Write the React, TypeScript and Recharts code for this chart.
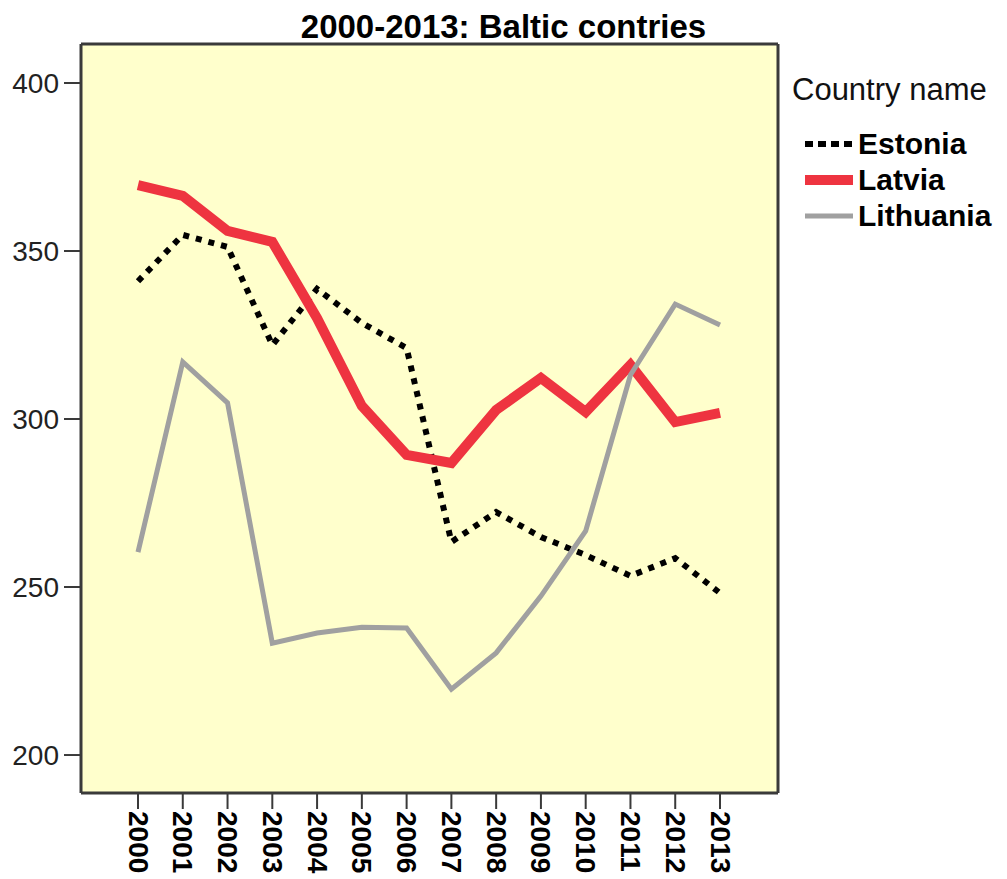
import React from 'react';
import { LineChart, Line, XAxis, YAxis, CartesianGrid, Legend } from 'recharts';

const years = ['2000', '2001', '2002', '2003', '2004', '2005', '2006', '2007', '2008', '2009', '2010', '2011', '2012', '2013'];
const estonia = [341, 354.8, 351.2, 322, 338.7, 328.6, 321.1, 263.4, 272.3, 264.9, 259.5, 253.3, 258.6, 248.2];
const latvia = [369.6, 366.4, 356, 352.7, 330, 303.9, 289.3, 286.9, 302.7, 312.2, 302.1, 316.1, 299.1, 301.8];
const lithuania = [260.4, 317, 304.8, 233.3, 236.3, 238, 237.8, 219.6, 230.4, 247.3, 266.7, 313.1, 334.2, 328];
const yTicks = [200, 250, 300, 350, 400];

const FONT = '"Liberation Sans", Arial, sans-serif';
const FRAME = '#3a3a3a';

const series = [
  { key: 'Estonia', color: '#000000', width: 6, dash: '6 7', legendDash: '8 5' },
  { key: 'Latvia', color: '#ee3440', width: 10, dash: undefined, legendDash: undefined },
  { key: 'Lithuania', color: '#a0a0a0', width: 5, dash: undefined, legendDash: undefined },
];

const data = years.map((year, i) => ({
  year,
  Estonia: estonia[i],
  Latvia: latvia[i],
  Lithuania: lithuania[i],
}));

const YearTick = ({ x, y, payload }: any) => (
  <text
    transform={`translate(${x},${y}) rotate(90)`}
    x={0}
    y={0}
    dominantBaseline="central"
    textAnchor="start"
    fontFamily={FONT}
    fontWeight={700}
    fontSize={28}
    fill="#000"
  >
    {payload.value}
  </text>
);

const renderLegend = () => (
  <div style={{ fontFamily: FONT, color: '#000' }}>
    <div style={{ fontSize: 31, lineHeight: '36px', color: '#111', whiteSpace: 'nowrap' }}>Country name</div>
    <div style={{ marginTop: 18 }}>
      {series.map((s) => (
        <div key={s.key} style={{ display: 'flex', alignItems: 'center', height: 36 }}>
          <svg width={48} height={12} style={{ marginLeft: 13 }}>
            <line
              x1={0}
              y1={6}
              x2={48}
              y2={6}
              stroke={s.color}
              strokeWidth={s.width}
              strokeDasharray={s.legendDash}
            />
          </svg>
          <span style={{ marginLeft: 5, fontSize: 30, fontWeight: 700, whiteSpace: 'nowrap' }}>{s.key}</span>
        </div>
      ))}
    </div>
  </div>
);

export default function App() {
  return (
    <div style={{ position: 'absolute', left: 0, top: 0, width: 1007, height: 879, background: '#fff' }}>
      <div
        style={{
          position: 'absolute',
          left: 0,
          top: 10,
          width: 1007,
          textAlign: 'center',
          fontFamily: FONT,
          fontWeight: 700,
          fontSize: 33,
          lineHeight: '33px',
          color: '#000',
        }}
      >
        2000-2013: Baltic contries
      </div>
      <LineChart width={1007} height={879} data={data} margin={{ top: 43, right: 228, bottom: 0, left: 0 }}>
        <CartesianGrid fill="#ffffcc" horizontal={false} vertical={false} />
        <XAxis
          dataKey="year"
          height={86}
          padding={{ left: 57, right: 58 }}
          tick={<YearTick />}
          tickSize={16}
          tickMargin={2}
          interval={0}
          axisLine={{ stroke: FRAME, strokeWidth: 3 }}
          tickLine={{ stroke: FRAME, strokeWidth: 2 }}
        />
        <XAxis xAxisId="top" dataKey="year" orientation="top" height={1} tick={false} tickLine={false} axisLine={{ stroke: FRAME, strokeWidth: 3 }} />
        <YAxis
          width={81}
          domain={[188.7, 411.6]}
          ticks={yTicks}
          tickSize={17}
          tickMargin={5}
          tick={{ fontFamily: FONT, fontSize: 28, fill: '#222' }}
          axisLine={{ stroke: FRAME, strokeWidth: 3 }}
          tickLine={{ stroke: FRAME, strokeWidth: 2 }}
        />
        <YAxis yAxisId="right" orientation="right" width={1} domain={[188.7, 411.6]} tick={false} tickLine={false} axisLine={{ stroke: FRAME, strokeWidth: 3 }} />
        {series.map((s) => (
          <Line
            key={s.key}
            type="linear"
            dataKey={s.key}
            stroke={s.color}
            strokeWidth={s.width}
            strokeDasharray={s.dash}
            dot={false}
            activeDot={false}
            isAnimationActive={false}
          />
        ))}
        <Legend
          layout="horizontal"
          verticalAlign="middle"
          align="center"
          content={renderLegend}
          wrapperStyle={{ left: 792, top: 72, width: 215, height: 170 }}
        />
      </LineChart>
    </div>
  );
}
